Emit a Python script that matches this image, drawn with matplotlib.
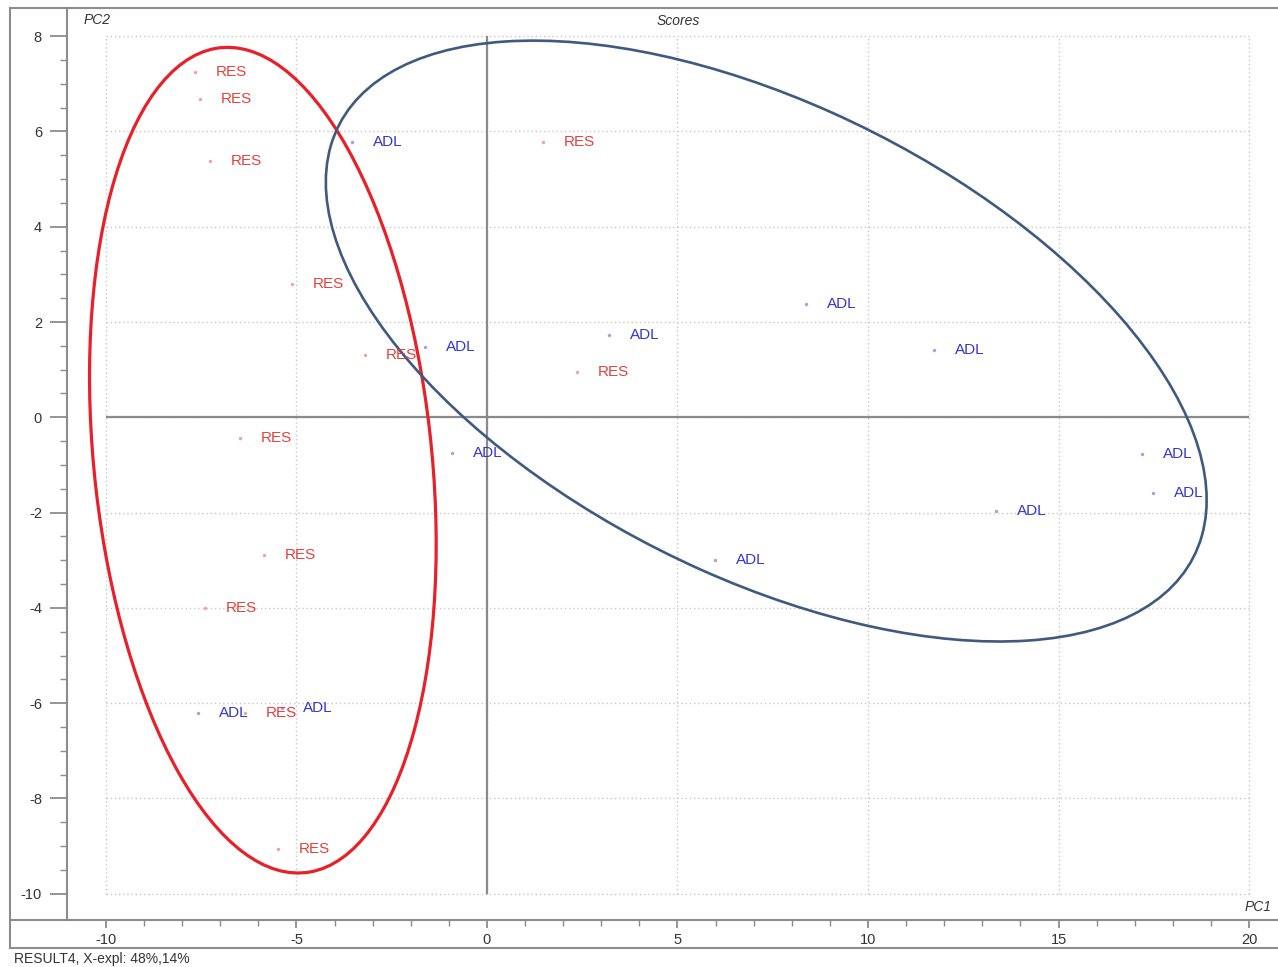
import numpy as np
import matplotlib
matplotlib.use("Agg")
import matplotlib.pyplot as plt
from matplotlib.patches import Ellipse
from matplotlib.lines import Line2D

plt.rcParams['font.family'] = ['Liberation Sans', 'DejaVu Sans']
plt.rcParams['axes.unicode_minus'] = False

# scores
res_x = [-7.66, -7.53, -7.27, -5.12, -3.20, 1.47, 2.36, -6.48, -5.85, -7.40, -6.35, -5.49]
res_y = [7.24, 6.68, 5.38, 2.80, 1.31, 5.78, 0.95, -0.44, -2.89, -4.00, -6.21, -9.07]
adl_x = [-3.54, -1.63, -0.92, 3.20, 8.37, 11.73, 17.19, 17.49, 13.36, 5.98, -7.59, -5.38]
adl_y = [5.78, 1.47, -0.75, 1.73, 2.37, 1.41, -0.76, -1.59, -1.97, -2.99, -6.20, -6.10]

# group ellipses (centre, full width, full height, angle in data units)
res_ellipse = ((-5.88, -0.90), 8.84, 17.46, 8.2)
adl_ellipse = ((7.33, 1.60), 24.28, 10.19, -19.7)

x_major = [-10, -5, 0, 5, 10, 15, 20]
y_major = [-10, -8, -6, -4, -2, 0, 2, 4, 6, 8]

fig = plt.figure(figsize=(12.78, 9.67), dpi=100)
ax = fig.add_axes([67 / 1278, 47 / 967, 1211 / 1278, 912 / 967])
ax.set_xlim(-11.02, 20.76)
ax.set_ylim(-10.55, 8.59)

gray = "#8c8c8c"
for s in ["top", "right"]:
    ax.spines[s].set_visible(False)
for s in ["left", "bottom"]:
    ax.spines[s].set_color(gray)
    ax.spines[s].set_linewidth(1.5)

# dotted grid inside the data range only
ax.vlines(x_major, -10, 8, colors="#c8c8c8", linestyles=(0, (1, 2)), linewidth=1.0, zorder=0)
ax.hlines(y_major, -10, 20, colors="#c8c8c8", linestyles=(0, (1, 2)), linewidth=1.0, zorder=0)
ax.hlines(0, -10, 20, colors="#8a8a8a", linewidth=1.6, zorder=1)
ax.vlines(0, -10, 8, colors="#8a8a8a", linewidth=1.6, zorder=1)

ax.set_xticks(x_major)
ax.set_xticks(np.arange(-10, 21, 1), minor=True)
ax.set_yticks(y_major)
ax.set_yticks(np.arange(-10, 8.5, 0.5), minor=True)
ax.tick_params(axis="both", which="both", direction="out", colors=gray, labelcolor="#333333", labelsize=10.5)
ax.tick_params(axis="y", which="major", length=12, width=1.3, pad=6)
ax.tick_params(axis="y", which="minor", length=5, width=1.0)
ax.tick_params(axis="x", which="major", length=6, width=1.3, pad=3)
ax.tick_params(axis="x", which="minor", length=4, width=1.0)

# ellipses
c, w, h, a = res_ellipse
ax.add_patch(Ellipse(c, w, h, angle=a, fill=False, edgecolor="#e8202a", linewidth=2.3, zorder=3))
c, w, h, a = adl_ellipse
ax.add_patch(Ellipse(c, w, h, angle=a, fill=False, edgecolor="#3f5a7e", linewidth=1.9, zorder=3))

# points and labels
ax.plot(res_x, res_y, linestyle="none", marker="o", markersize=1.4, color="#f4a0a0", zorder=4)
ax.plot(adl_x, adl_y, linestyle="none", marker="o", markersize=1.4, color="#a0a0e8", zorder=4)
for x, y in zip(res_x, res_y):
    ax.annotate("RES", (x, y), xytext=(15, 0), textcoords="offset points",
                ha="left", va="center", fontsize=11, color="#e8403a", zorder=5)
for x, y in zip(adl_x, adl_y):
    ax.annotate("ADL", (x, y), xytext=(15, 0), textcoords="offset points",
                ha="left", va="center", fontsize=11, color="#3434d2", zorder=5)

# axis captions
ax.text(97 / 1278, 1 - 20 / 967, "PC2", transform=fig.transFigure, ha="center", va="center",
        fontsize=10, style="italic", color="#333333")
ax.text(678 / 1278, 1 - 21 / 967, "Scores", transform=fig.transFigure, ha="center", va="center",
        fontsize=10, style="italic", color="#333333")
ax.text(1258 / 1278, 1 - 907 / 967, "PC1", transform=fig.transFigure, ha="center", va="center",
        fontsize=10, style="italic", color="#333333")
fig.text(14 / 1278, 1 - 959 / 967, "RESULT4, X-expl: 48%,14%", ha="left", va="center",
         fontsize=10, color="#333333")

# outer frame of the plot window
def frame_line(x0, y0, x1, y1):
    fig.add_artist(Line2D([x0 / 1278, x1 / 1278], [1 - y0 / 967, 1 - y1 / 967],
                          transform=fig.transFigure, color=gray, linewidth=1.5))

frame_line(10, 8, 1278, 8)
frame_line(10, 8, 10, 948)
frame_line(10, 920, 67, 920)
frame_line(10, 948, 1278, 948)

fig.savefig("out.png", dpi=100)
